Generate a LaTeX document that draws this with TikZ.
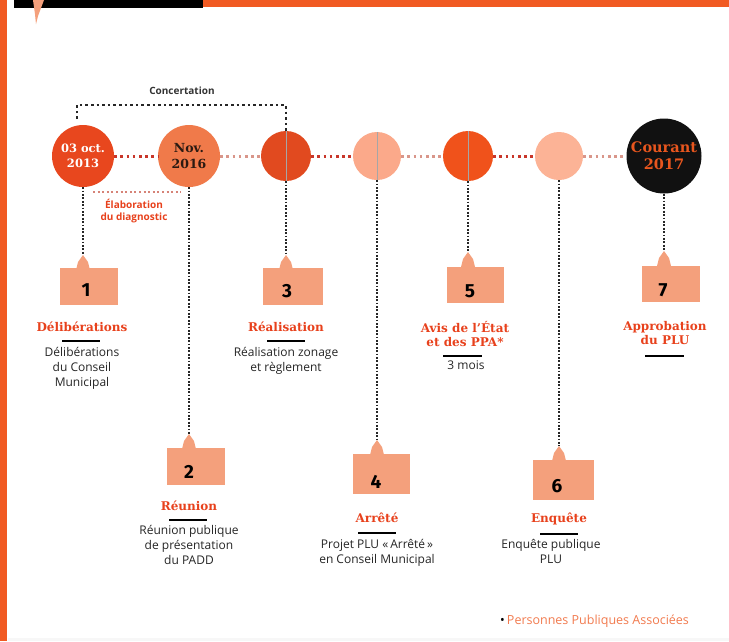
\documentclass[tikz,border=0pt]{standalone}
\usepackage{fontspec}
\setmainfont{DejaVu Serif}
\newfontfamily\bodyf{Open Sans}
\newfontfamily\numf{Fira Sans}
\definecolor{frameor}{HTML}{F15A22}
\definecolor{cA}{HTML}{E8471E}
\definecolor{cB}{HTML}{F07A4A}
\definecolor{cC}{HTML}{E14A1F}
\definecolor{cD}{HTML}{FBA98A}
\definecolor{cE}{HTML}{F0521B}
\definecolor{cF}{HTML}{FCB396}
\definecolor{cG}{HTML}{111111}
\definecolor{courant}{HTML}{E8561E}
\definecolor{pincol}{HTML}{F4A07C}
\definecolor{titlered}{HTML}{E8411C}
\definecolor{dotred}{HTML}{C8362A}
\definecolor{dotpink}{HTML}{D9968A}
\definecolor{footor}{HTML}{F27B4F}
\definecolor{darkt}{HTML}{2B1A12}
\tikzset{
  stage/.style={circle, inner sep=0pt, align=center, font=\bfseries\fontsize{11.5}{15}\selectfont},
  pinbox/.style={rectangle, fill=pincol, inner sep=0pt},
  pinnum/.style={font=\numf\bfseries\fontsize{19}{19}\selectfont, text=black},
  hred/.style={draw=dotred, line width=3pt, dash pattern=on 2.6pt off 3.6pt},
  hpink/.style={draw=dotpink, line width=3pt, dash pattern=on 2.6pt off 3.6pt},
  vdot/.style={draw=black!85, line width=2.2pt, dash pattern=on 1.8pt off 1.6pt},
  bracketdot/.style={draw=black!85, line width=2.8pt, dash pattern=on 2.6pt off 3pt},
  titletxt/.style={text=titlered, align=center, font=\bfseries\fontsize{12}{14.5}\selectfont, inner sep=0pt},
  bodytxt/.style={text=black!85, align=center, font=\bodyf\fontsize{12}{15}\selectfont, inner sep=0pt, anchor=north},
  uline/.style={draw=black, line width=1.8pt},
  thinsplit/.style={draw=gray!70, line width=0.5pt}
}
\newcommand\pintab[2]{\fill[pincol] (#1-7,#2+15) -- (#1-5,#2+7) -- (#1,#2) -- (#1+5,#2+7) -- (#1+7,#2+15) -- cycle;}
\begin{document}
\begin{tikzpicture}[x=1pt,y=-1pt]
\useasboundingbox (0,0) rectangle (729,641);
\fill[white] (0,0) rectangle (729,641);
% frame
\fill[frameor] (0,0) rectangle (7,641);
\fill[frameor] (200,0) rectangle (729,7);
\fill[black] (14,0) rectangle (203,8);
\fill[pincol] (33,0) -- (44,0) -- (38,16) -- (36,24) -- (35,14) -- cycle;
\fill[black!3] (8,638) rectangle (729,641);

% stage circles
\node[stage, minimum size=62, fill=cA, text=white] (c1) at (83,156) {03 oct.\\2013};
\node[stage, minimum size=62, fill=cB, text=darkt, font=\bfseries\fontsize{12.5}{15.5}\selectfont] (c2) at (189,156) {Nov.\\2016};
\node[stage, minimum size=50, fill=cC] (c3) at (286,156) {};
\node[stage, minimum size=48, fill=cD] (c4) at (377,156) {};
\node[stage, minimum size=50, fill=cE] (c5) at (468,156) {};
\node[stage, minimum size=48, fill=cF] (c6) at (559,156) {};
\node[stage, minimum size=75, fill=cG, text=courant, font=\bfseries\fontsize{14.5}{17}\selectfont] (c7) at (664,156) {Courant\\2017};

% horizontal dotted links
\draw[hred] (c1.east) -- (c2.west);
\draw[hpink] (c2.east) -- (c3.west);
\draw[hred] (c3.east) -- (c4.west);
\draw[hpink] (c4.east) -- (c5.west);
\draw[hred] (c5.east) -- (c6.west);
\draw[hpink] (c6.east) -- (c7.west);

\draw[thinsplit] (c3.north) -- (c3.south);
\draw[thinsplit] (c4.north) -- (c4.south);
\draw[thinsplit] (c5.north) -- (c5.south);

% concertation bracket
\coordinate (bl) at (77,119);
\draw[bracketdot] (bl) -- (77,105) -- (286,105) -- (c3.north);
\node[font=\bodyf\bfseries\fontsize{10}{12}\selectfont, text=black!80] (conc) at (182,91) {Concertation};

% elaboration
\coordinate (ea) at (93,192);
\coordinate (eb) at (181,192);
\draw[draw=dotpink!80!dotred, line width=2.2pt, dash pattern=on 2pt off 2.6pt] (ea) -- (eb);
\node[align=center, text=titlered, font=\bodyf\bfseries\fontsize{10}{11.5}\selectfont, inner sep=0pt] (elab) at (134,211) {Élaboration\\du diagnostic};

% pins
\node[pinbox, minimum width=58, minimum height=37] (p1) at (89,286.5) {};
\node[pinbox, minimum width=58, minimum height=37] (p2) at (196,466.5) {};
\node[pinbox, minimum width=60, minimum height=37] (p3) at (293,286.5) {};
\node[pinbox, minimum width=57, minimum height=40] (p4) at (381.5,474) {};
\node[pinbox, minimum width=57, minimum height=36] (p5) at (475,285) {};
\node[pinbox, minimum width=61, minimum height=40] (p6) at (563,480) {};
\node[pinbox, minimum width=58, minimum height=36] (p7) at (671,284) {};
\pintab{83}{255}
\pintab{189}{434}
\pintab{286}{255}
\pintab{377}{440}
\pintab{468}{252}
\pintab{559}{446}
\pintab{664}{251}
\coordinate (t1) at (83,255);
\coordinate (t2) at (189,434);
\coordinate (t3) at (286,255);
\coordinate (t4) at (377,440);
\coordinate (t5) at (468,252);
\coordinate (t6) at (559,446);
\coordinate (t7) at (664,251);
\draw[vdot] (c1.south) -- (t1);
\draw[vdot] (c2.south) -- (t2);
\draw[vdot] (c3.south) -- (t3);
\draw[vdot] (c4.south) -- (t4);
\draw[vdot] (c5.south) -- (t5);
\draw[vdot] (c6.south) -- (t6);
\draw[vdot] (c7.south) -- (t7);

\node[pinnum] (n1) at (86,290) {1};
\node[pinnum] (n2) at (189,472) {2};
\node[pinnum] (n3) at (287,291) {3};
\node[pinnum] (n4) at (376,482) {4};
\node[pinnum] (n5) at (470,291) {5};
\node[pinnum] (n6) at (557,486) {6};
\node[pinnum] (n7) at (663,290) {7};

% titles
\node[titletxt] (h1) at (82,327) {Délibérations};
\node[titletxt] (h2) at (189,506) {Réunion};
\node[titletxt] (h3) at (286,327) {Réalisation};
\node[titletxt] (h4) at (377,518) {Arrêté};
\node[titletxt] (h5) at (465,334) {Avis de l’État\\et des PPA*};
\node[titletxt] (h6) at (559,519) {Enquête};
\node[titletxt] (h7) at (665,333) {Approbation\\du PLU};

% underlines
\draw[uline] (62,341) -- (100,341);
\draw[uline] (169,520) -- (207,520);
\draw[uline] (267,341) -- (305,341);
\draw[uline] (358,533) -- (396,533);
\draw[uline] (443,356) -- (482,356);
\draw[uline] (645,356) -- (684,356);
\draw[uline] (540,534) -- (578,534);

% body texts
\node[bodytxt] (b1) at (82,347) {Délibérations\\du Conseil\\Municipal};
\node[bodytxt] (b2) at (189,525) {Réunion publique\\de présentation\\du PADD};
\node[bodytxt] (b3) at (286,347) {Réalisation zonage\\et règlement};
\node[bodytxt] (b4) at (377,539) {Projet PLU «\,Arrêté\,»\\en Conseil Municipal};
\node[bodytxt] (b5) at (466,360) {3 mois};
\node[bodytxt] (b6) at (551,539) {Enquête publique\\PLU};

% footnote
\node[anchor=west, inner sep=0pt, font=\bodyf\fontsize{12.5}{14}\selectfont, text=footor] (foot) at (500,621) {{\color{black}\textbullet}\,Personnes Publiques Associées};
\end{tikzpicture}
\end{document}
